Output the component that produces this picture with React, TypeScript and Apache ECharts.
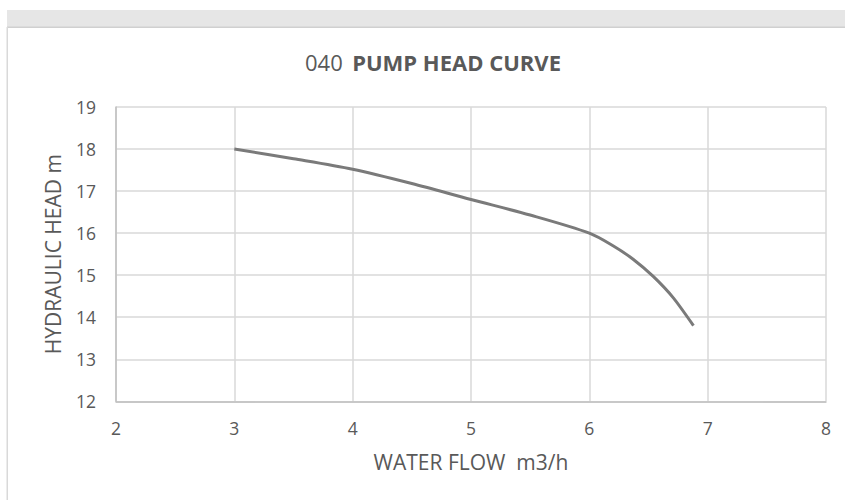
import React, { useEffect, useRef } from "react";
import * as echarts from "echarts";

const flow = [3, 3.5, 4, 4.5, 5, 5.5, 6, 6.2, 6.37, 6.54, 6.71, 6.88];
const head = [18, 17.77, 17.52, 17.18, 16.8, 16.43, 16, 15.7, 15.38, 14.97, 14.46, 13.8];
const titleNumber = "040";
const titleText = "PUMP HEAD CURVE";
const xName = "WATER FLOW  m3/h";
const yName = "HYDRAULIC HEAD m";

export default function App() {
  const ref = useRef<HTMLDivElement>(null);
  useEffect(() => {
    if (!ref.current) return;
    const chart = echarts.init(ref.current, undefined, { renderer: "svg" });
    const font = "'Open Sans', sans-serif";
    const txt = "#595959";
    chart.setOption({
      animation: false,
      backgroundColor: "#ffffff",
      textStyle: { fontFamily: font },
      graphic: [
        { type: "rect", shape: { x: 7, y: 10, width: 838, height: 17 }, style: { fill: "#e6e6e6" }, silent: true },
        { type: "rect", shape: { x: 7, y: 26.5, width: 838, height: 1.5 }, style: { fill: "#d0d0d0" }, silent: true },
        { type: "rect", shape: { x: 6.5, y: 27, width: 1.5, height: 473 }, style: { fill: "#d9d9d9" }, silent: true },
      ],
      title: {
        text: `{a|${titleNumber}}  {b|${titleText}}`,
        left: 428,
        top: 46,
        textAlign: "center",
        textStyle: {
          rich: {
            a: { fontFamily: font, fontSize: 22, color: txt, fontWeight: "normal" },
            b: { fontFamily: font, fontSize: 22, color: txt, fontWeight: "bold" },
          },
        },
      },
      grid: { left: 116, right: 19, top: 107, height: 294.3 },
      xAxis: {
        type: "value",
        min: 2,
        max: 8,
        interval: 1,
        name: xName,
        nameLocation: "middle",
        nameGap: 50,
        nameTextStyle: { color: txt, fontSize: 21, fontFamily: font },
        axisLine: { show: true, lineStyle: { color: "#bfbfbf", width: 1.5 } },
        axisTick: { show: false },
        axisLabel: { color: txt, fontSize: 17.5, margin: 18, fontFamily: font },
        splitLine: { show: true, lineStyle: { color: "#d9d9d9", width: 1.5 } },
      },
      yAxis: {
        type: "value",
        min: 12,
        max: 19,
        interval: 1,
        name: yName,
        nameLocation: "middle",
        nameGap: 53,
        nameTextStyle: { color: txt, fontSize: 21, fontFamily: font },
        axisLine: { show: true, lineStyle: { color: "#bfbfbf", width: 1.5 } },
        axisTick: { show: false },
        axisLabel: { color: txt, fontSize: 17.5, margin: 20, fontFamily: font },
        splitLine: { show: true, lineStyle: { color: "#d9d9d9", width: 1.5 } },
      },
      series: [
        {
          type: "line",
          data: flow.map((f, i) => [f, head[i]]),
          smooth: 0.3,
          showSymbol: false,
          lineStyle: { color: "#7a7a7a", width: 3 },
          itemStyle: { color: "#7a7a7a" },
        },
      ],
    });
    return () => chart.dispose();
  }, []);
  return (
    <div
      ref={ref}
      style={{ position: "fixed", left: 0, top: 0, width: 845, height: 500 }}
    />
  );
}
